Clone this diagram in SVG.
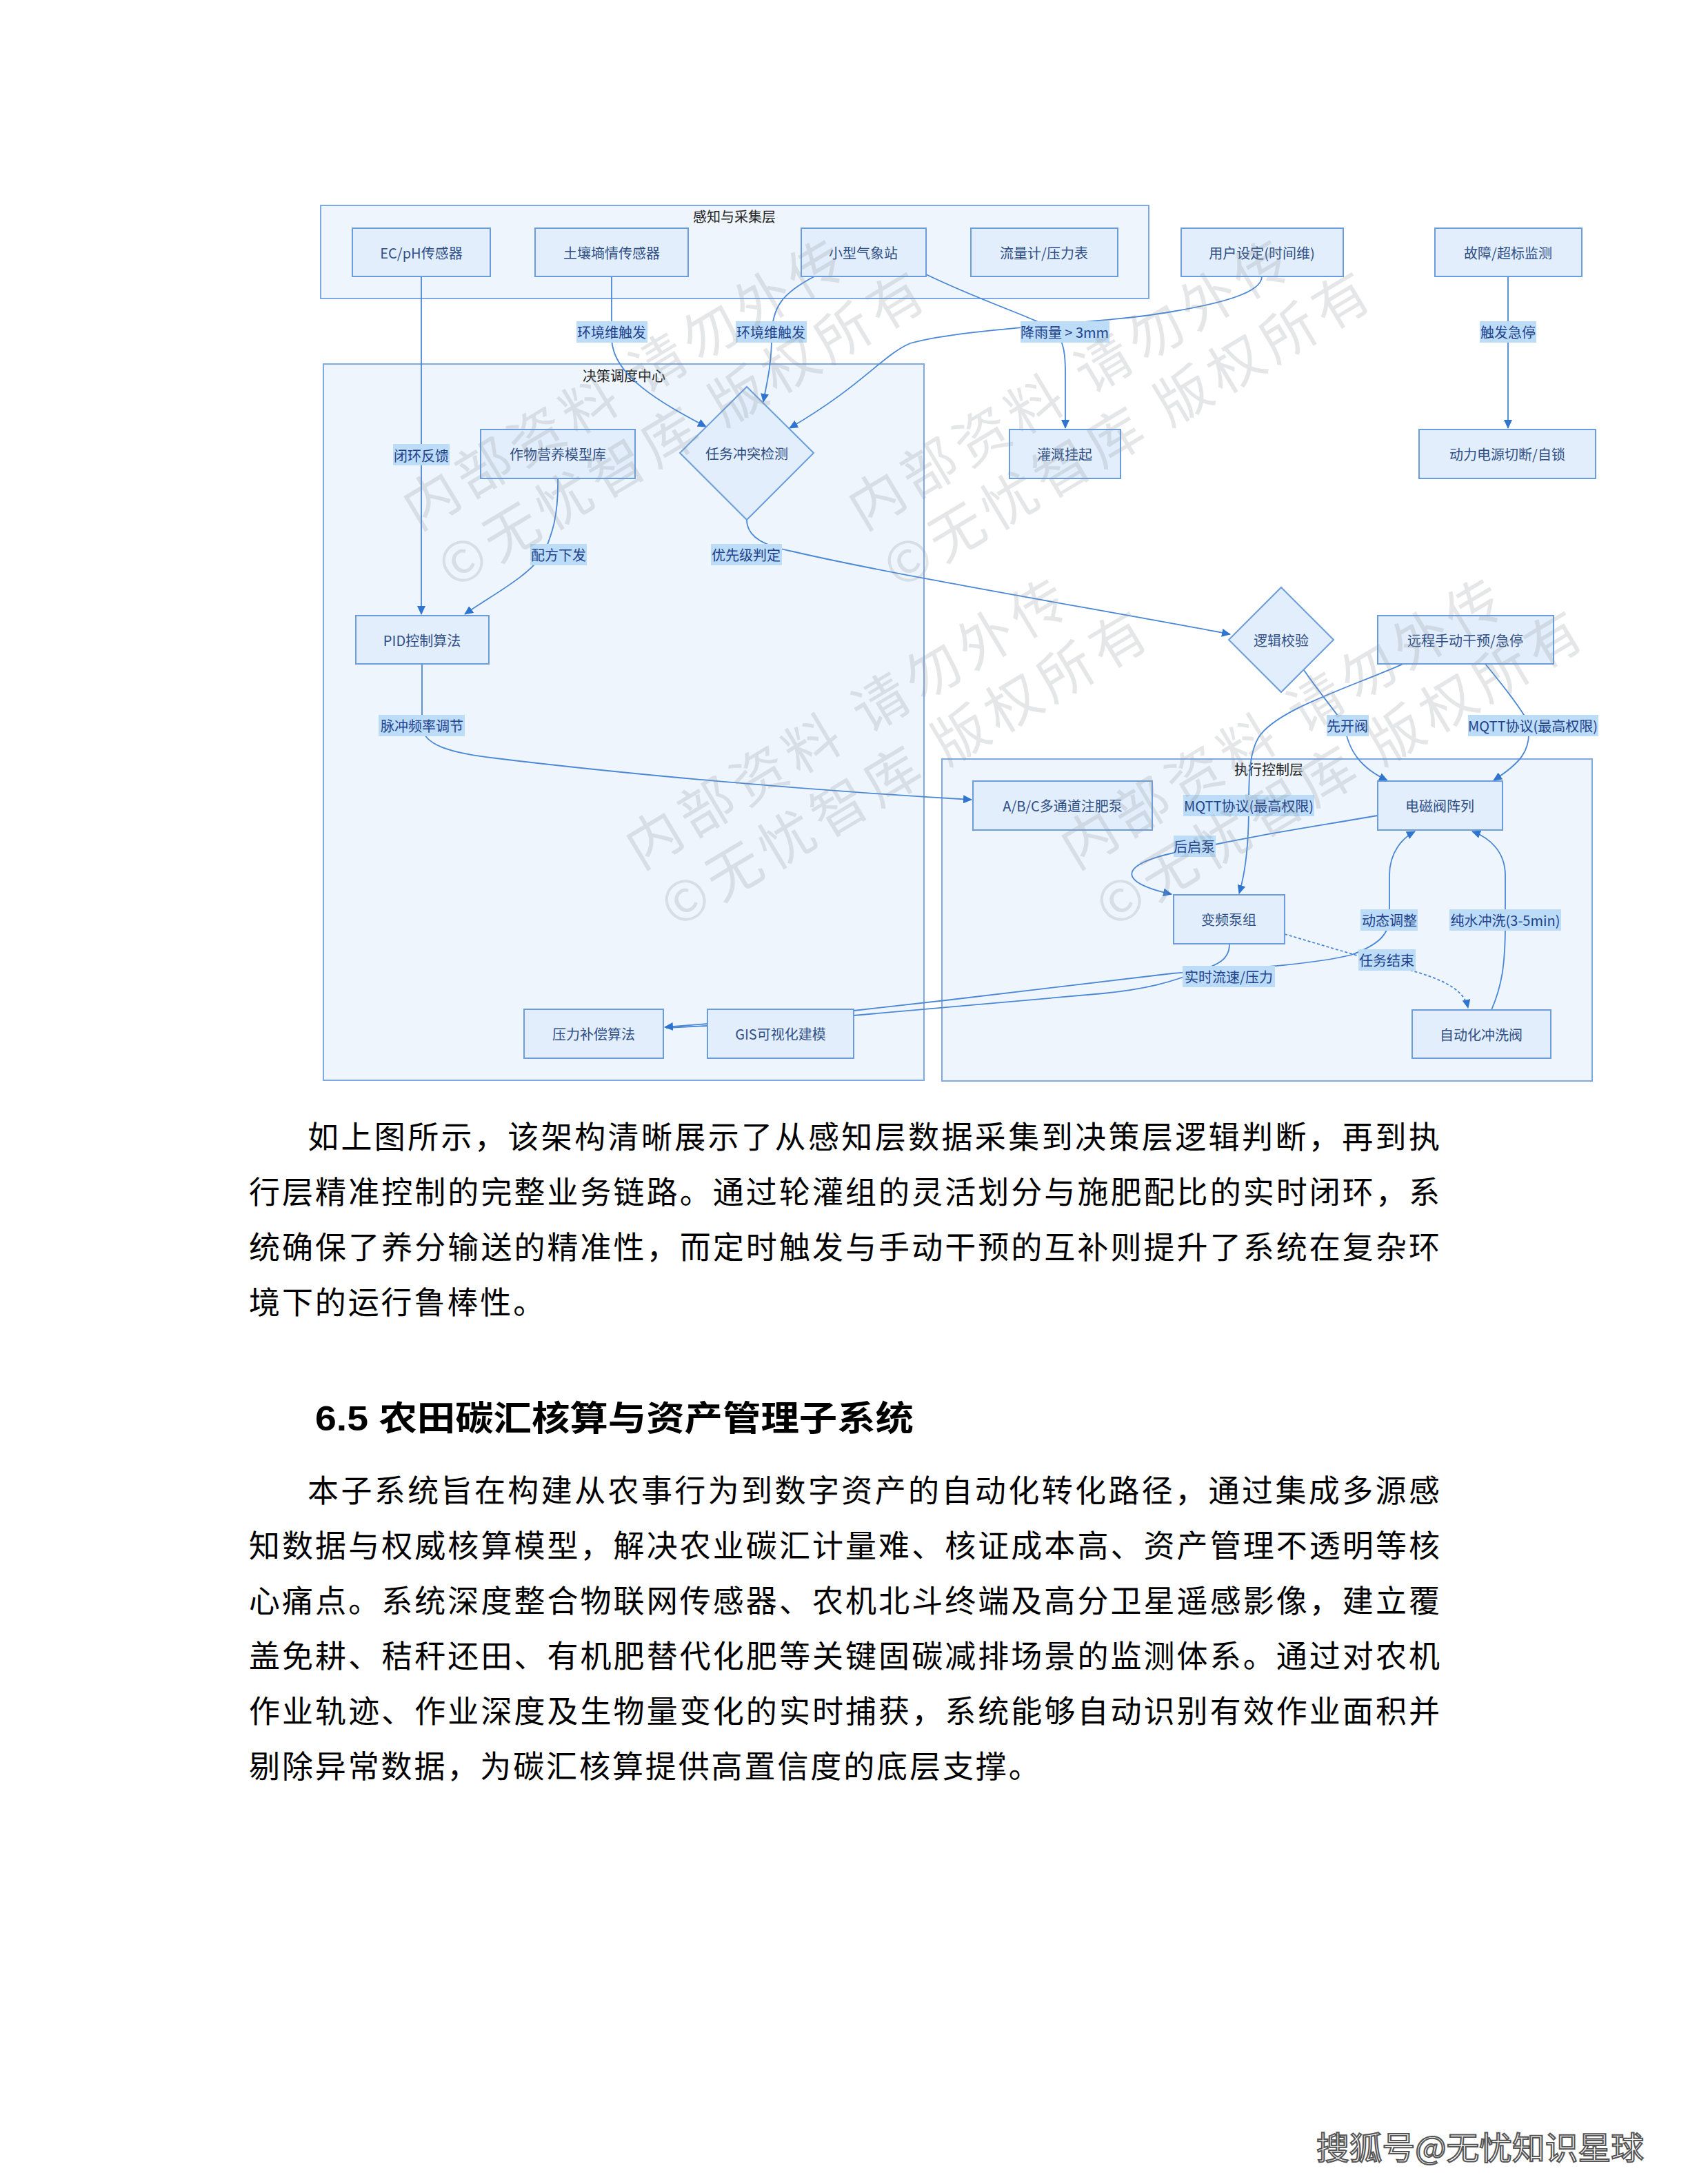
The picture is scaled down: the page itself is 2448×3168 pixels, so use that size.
<svg xmlns="http://www.w3.org/2000/svg" width="2448" height="3168" viewBox="0 0 2448 3168">
<defs>
<style>
.cont{fill:#eef5fd;stroke:#7fa9e3;stroke-width:2}
.node{fill:#e2eefb;stroke:#6b9ddd;stroke-width:2}
.ntxt{font-family:"Noto Sans CJK SC","Noto Sans",sans-serif;font-size:20px;fill:#2f4f86;text-anchor:middle;dominant-baseline:central}
.ctitle{font-family:"Noto Sans CJK SC","Noto Sans",sans-serif;font-size:20px;fill:#222;text-anchor:middle;dominant-baseline:central}
.edge{fill:none;stroke:#4a87d6;stroke-width:1.8;marker-end:url(#arr)}
.na{marker-end:none}
.dash{stroke-dasharray:4 3}
.lbg{fill:#bcdcf8}
.ltxt{font-family:"Noto Sans CJK SC","Noto Sans",sans-serif;font-size:20px;fill:#21418a;text-anchor:middle;dominant-baseline:central}
.body{font-family:"Liberation Serif","Noto Sans CJK SC",serif;font-size:45px;fill:#000}
.head{font-family:"Liberation Sans","Noto Sans CJK SC",sans-serif;font-size:50px;font-weight:bold;fill:#000}
.wm{font-family:"Noto Sans CJK SC",sans-serif;font-size:80px;fill:#8f959b;fill-opacity:0.24;letter-spacing:9px}
.foot{font-family:"Noto Sans CJK SC",sans-serif;font-size:46px;fill:#fff;stroke:#555;stroke-width:2}
</style>
<marker id="arr" markerWidth="14" markerHeight="12" refX="12" refY="6" orient="auto" markerUnits="userSpaceOnUse"><path d="M0,0 L13,6 L0,12 z" fill="#2f74cf"/></marker>
</defs>
<rect x="0" y="0" width="2448" height="3168" fill="#fff"/>

<g id="containers">
<g id="layer-sense"><rect class="cont" x="465" y="298" width="1201" height="135"/><text class="ctitle" x="1065" y="313">感知与采集层</text></g>
<g id="layer-decision"><rect class="cont" x="469" y="528" width="871" height="1039"/><text class="ctitle" x="905" y="544">决策调度中心</text></g>
<g id="layer-exec"><rect class="cont" x="1366" y="1101" width="943" height="467"/><text class="ctitle" x="1840" y="1115">执行控制层</text></g>
</g>

<g id="connectors">
<path class="edge" d="M611,401 L611,891"/>
<path class="edge" d="M887,401 L887,490 C887,545 960,585 1024,619"/>
<path class="edge" d="M1181,401 C1135,425 1119,445 1119,490 C1119,530 1111,560 1107,583"/>
<path class="edge" d="M1830,401 C1830,425 1770,440 1700,452 C1600,470 1400,475 1320,498 C1280,515 1250,560 1145,621"/>
<path class="edge" d="M1343,398 C1430,440 1500,460 1530,480 C1542,495 1545,510 1545,540 L1545,621"/>
<path class="edge" d="M2187,401 L2187,621"/>
<path class="edge" d="M809,694 C810,750 800,775 790,800 C770,835 710,865 674,891"/>
<path class="edge" d="M1083,754 C1083,780 1110,792 1150,800 C1300,835 1600,885 1784,920"/>
<path class="edge" d="M612,963 L612,1055 C615,1080 650,1092 720,1100 C900,1122 1150,1145 1409,1160"/>
<path class="edge" d="M1891,972 C1910,1000 1935,1030 1950,1052 C1955,1090 1975,1115 2012,1132"/>
<path class="edge" d="M2154,963 C2180,995 2200,1020 2215,1045 C2225,1090 2200,1110 2166,1132"/>
<path class="edge" d="M2035,963 C1950,1000 1850,1030 1825,1070 C1813,1090 1811,1120 1811,1168 C1811,1230 1805,1270 1797,1296"/>
<path class="edge" d="M1998,1183 C1900,1200 1800,1215 1732,1232 C1640,1245 1600,1275 1699,1297"/>
<path class="edge" d="M1238,1466 C1400,1448 1600,1425 1700,1412 C1800,1405 1900,1400 1960,1385 C2000,1370 2015,1355 2015,1330 L2015,1270 C2015,1235 2035,1215 2052,1206"/>
<path class="edge" d="M2163,1465 C2178,1430 2183,1400 2183,1340 L2183,1270 C2183,1235 2160,1215 2135,1206"/>
<path class="edge dash" d="M1863,1355 L1975,1388 C2050,1410 2120,1420 2129,1462"/>
<path class="edge na" d="M1783,1370 C1783,1392 1765,1400 1740,1408 C1700,1425 1660,1435 1600,1441 C1450,1455 1330,1465 1238,1473"/>
<path class="edge na" d="M1026,1488 L966,1491"/>
<path class="edge" d="M1026,1485 L964,1490"/>
</g>

<g id="nodes">
<g id="n-ec"><rect class="node" x="511" y="331" width="200" height="70"/><text class="ntxt" x="611" y="366">EC/pH传感器</text></g>
<g id="n-soil"><rect class="node" x="776" y="331" width="222" height="70"/><text class="ntxt" x="887" y="366">土壤墒情传感器</text></g>
<g id="n-weather"><rect class="node" x="1162" y="331" width="181" height="70"/><text class="ntxt" x="1252" y="366">小型气象站</text></g>
<g id="n-flow"><rect class="node" x="1408" y="331" width="213" height="70"/><text class="ntxt" x="1514" y="366">流量计/压力表</text></g>
<g id="n-user"><rect class="node" x="1713" y="331" width="235" height="70"/><text class="ntxt" x="1830" y="366">用户设定(时间维)</text></g>
<g id="n-fault"><rect class="node" x="2081" y="331" width="213" height="70"/><text class="ntxt" x="2187" y="366">故障/超标监测</text></g>
<g id="n-crop"><rect class="node" x="697" y="623" width="224" height="71"/><text class="ntxt" x="809" y="658">作物营养模型库</text></g>
<g id="n-conflict"><polygon class="node" points="1083,561 1180,657 1083,754 986,657"/><text class="ntxt" x="1083" y="657">任务冲突检测</text></g>
<g id="n-hold"><rect class="node" x="1464" y="623" width="161" height="71"/><text class="ntxt" x="1544" y="658">灌溉挂起</text></g>
<g id="n-power"><rect class="node" x="2058" y="623" width="256" height="71"/><text class="ntxt" x="2186" y="658">动力电源切断/自锁</text></g>
<g id="n-pid"><rect class="node" x="516" y="893" width="193" height="70"/><text class="ntxt" x="612" y="928">PID控制算法</text></g>
<g id="n-logic"><polygon class="node" points="1858,852 1934,928 1858,1004 1782,928"/><text class="ntxt" x="1858" y="928">逻辑校验</text></g>
<g id="n-remote"><rect class="node" x="1998" y="893" width="255" height="70"/><text class="ntxt" x="2125" y="928">远程手动干预/急停</text></g>
<g id="n-abc"><rect class="node" x="1411" y="1133" width="260" height="71"/><text class="ntxt" x="1541" y="1168">A/B/C多通道注肥泵</text></g>
<g id="n-valve"><rect class="node" x="1998" y="1133" width="181" height="71"/><text class="ntxt" x="2088" y="1168">电磁阀阵列</text></g>
<g id="n-vfd"><rect class="node" x="1702" y="1298" width="161" height="71"/><text class="ntxt" x="1782" y="1333">变频泵组</text></g>
<g id="n-flush"><rect class="node" x="2048" y="1465" width="201" height="70"/><text class="ntxt" x="2148" y="1500">自动化冲洗阀</text></g>
<g id="n-press"><rect class="node" x="760" y="1464" width="202" height="71"/><text class="ntxt" x="861" y="1499">压力补偿算法</text></g>
<g id="n-gis"><rect class="node" x="1026" y="1464" width="212" height="71"/><text class="ntxt" x="1132" y="1499">GIS可视化建模</text></g>
</g>

<g id="edge-labels">
<rect class="lbg" x="570" y="644" width="82" height="31"/><text class="ltxt" x="611" y="660">闭环反馈</text>
<rect class="lbg" x="836" y="466" width="103" height="31"/><text class="ltxt" x="887" y="481">环境维触发</text>
<rect class="lbg" x="1067" y="466" width="103" height="31"/><text class="ltxt" x="1118" y="481">环境维触发</text>
<rect class="lbg" x="1480" y="466" width="129" height="31"/><text class="ltxt" x="1544" y="481">降雨量 &gt; 3mm</text>
<rect class="lbg" x="2146" y="466" width="82" height="31"/><text class="ltxt" x="2187" y="481">触发急停</text>
<rect class="lbg" x="769" y="789" width="82" height="31"/><text class="ltxt" x="810" y="804">配方下发</text>
<rect class="lbg" x="1031" y="789" width="103" height="31"/><text class="ltxt" x="1082" y="804">优先级判定</text>
<rect class="lbg" x="549" y="1037" width="125" height="31"/><text class="ltxt" x="612" y="1052">脉冲频率调节</text>
<rect class="lbg" x="1924" y="1037" width="61" height="31"/><text class="ltxt" x="1954" y="1052">先开阀</text>
<rect class="lbg" x="2129" y="1037" width="189" height="31"/><text class="ltxt" x="2223" y="1052">MQTT协议(最高权限)</text>
<rect class="lbg" x="1716" y="1153" width="190" height="31"/><text class="ltxt" x="1811" y="1168">MQTT协议(最高权限)</text>
<rect class="lbg" x="1702" y="1212" width="61" height="31"/><text class="ltxt" x="1732" y="1227">后启泵</text>
<rect class="lbg" x="1973" y="1319" width="83" height="31"/><text class="ltxt" x="2015" y="1334">动态调整</text>
<rect class="lbg" x="2102" y="1319" width="162" height="31"/><text class="ltxt" x="2183" y="1334">纯水冲洗(3-5min)</text>
<rect class="lbg" x="1970" y="1377" width="83" height="31"/><text class="ltxt" x="2011" y="1392">任务结束</text>
<rect class="lbg" x="1715" y="1401" width="134" height="31"/><text class="ltxt" x="1782" y="1416">实时流速/压力</text>
</g>

<g id="watermark" class="wm">
<text transform="translate(606,770) rotate(-31)"><tspan x="0" y="0">内部资料 请勿外传</tspan><tspan x="0" y="100">©无忧智库 版权所有</tspan></text>
<text transform="translate(1252,770) rotate(-31)"><tspan x="0" y="0">内部资料 请勿外传</tspan><tspan x="0" y="100">©无忧智库 版权所有</tspan></text>
<text transform="translate(929,1262) rotate(-31)"><tspan x="0" y="0">内部资料 请勿外传</tspan><tspan x="0" y="100">©无忧智库 版权所有</tspan></text>
<text transform="translate(1560,1262) rotate(-31)"><tspan x="0" y="0">内部资料 请勿外传</tspan><tspan x="0" y="100">©无忧智库 版权所有</tspan></text>
</g>

<g id="body-text">
<text class="body" x="446" y="1666" textLength="1642" lengthAdjust="spacing">如上图所示，该架构清晰展示了从感知层数据采集到决策层逻辑判断，再到执</text>
<text class="body" x="361" y="1746" textLength="1727" lengthAdjust="spacing">行层精准控制的完整业务链路。通过轮灌组的灵活划分与施肥配比的实时闭环，系</text>
<text class="body" x="361" y="1826" textLength="1727" lengthAdjust="spacing">统确保了养分输送的精准性，而定时触发与手动干预的互补则提升了系统在复杂环</text>
<text class="body" x="361" y="1906" letter-spacing="2.9">境下的运行鲁棒性。</text>
<text class="head" x="457" y="2075" textLength="868" lengthAdjust="spacingAndGlyphs">6.5 农田碳汇核算与资产管理子系统</text>
<text class="body" x="446" y="2179" textLength="1642" lengthAdjust="spacing">本子系统旨在构建从农事行为到数字资产的自动化转化路径，通过集成多源感</text>
<text class="body" x="361" y="2259" textLength="1727" lengthAdjust="spacing">知数据与权威核算模型，解决农业碳汇计量难、核证成本高、资产管理不透明等核</text>
<text class="body" x="361" y="2339" textLength="1727" lengthAdjust="spacing">心痛点。系统深度整合物联网传感器、农机北斗终端及高分卫星遥感影像，建立覆</text>
<text class="body" x="361" y="2419" textLength="1727" lengthAdjust="spacing">盖免耕、秸秆还田、有机肥替代化肥等关键固碳减排场景的监测体系。通过对农机</text>
<text class="body" x="361" y="2499" textLength="1727" lengthAdjust="spacing">作业轨迹、作业深度及生物量变化的实时捕获，系统能够自动识别有效作业面积并</text>
<text class="body" x="361" y="2579" letter-spacing="2.9">剔除异常数据，为碳汇核算提供高置信度的底层支撑。</text>
<text class="foot" x="1909" y="3132" textLength="475" lengthAdjust="spacingAndGlyphs">搜狐号@无忧知识星球</text>
</g>
</svg>
